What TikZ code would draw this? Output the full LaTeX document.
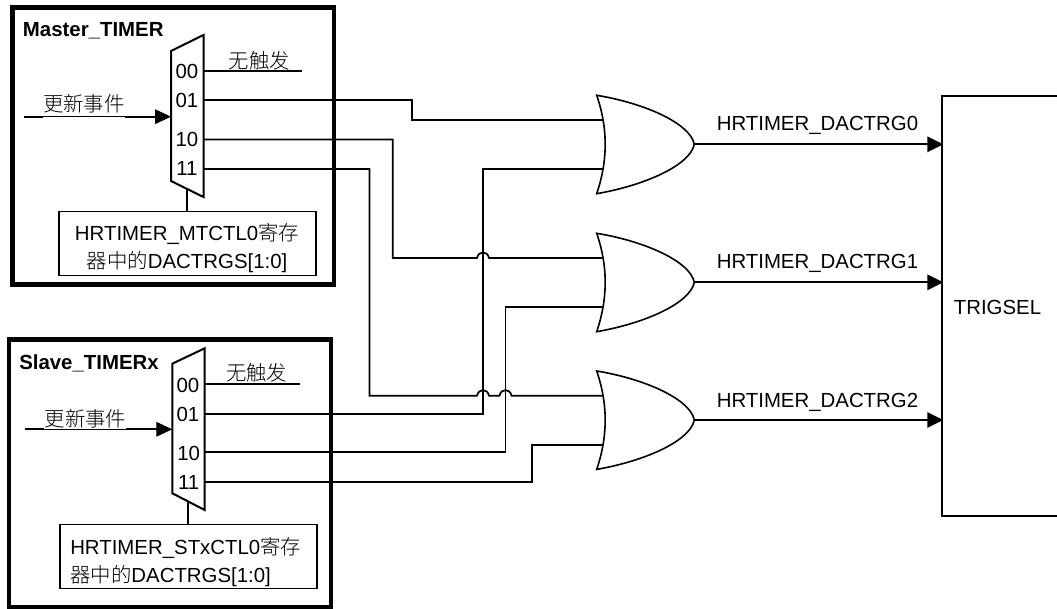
\documentclass[tikz,border=0pt]{standalone}
\usepackage{fontspec}
\setmainfont{Liberation Sans}
\newfontfamily\cjk{Noto Sans CJK SC Light}
\usetikzlibrary{arrows.meta}
\tikzset{
  x=0.75pt,y=-0.75pt,
  txt/.style={inner sep=0pt,font=\fontsize{15.3}{21}\selectfont},
  title/.style={txt,anchor=west,font=\fontsize{15.3}{21}\selectfont\bfseries},
  signal/.style={txt,anchor=west},
  pinlabel/.style={txt},
  frame/.style={draw=black,line width=3.6pt},
  regbox/.style={draw=black,line width=1pt,inner sep=0pt,minimum width=257*0.75pt,minimum height=63.6*0.75pt},
  muxshape/.style={draw=black,line width=1.5pt,line join=miter},
  wire/.style={draw=black,line width=1.3pt},
  stub/.style={draw=black,line width=1.7pt},
  gateline/.style={draw=black,line width=1.2pt,line join=miter},
  inarrow/.style={draw=black,line width=0.8pt,-{Triangle[length=12pt,width=11pt]}},
  outarrow/.style={draw=black,line width=1.6pt,-{Triangle[length=12pt,width=11.5pt]}},
}
\newcommand{\orgate}[2]{%
  \begin{scope}[shift={(0,#2)}]
    \coordinate (#1a) at (602.7,24.7);
    \coordinate (#1b) at (602.7,73.7);
    \coordinate (#1o) at (694.3,49);
    \draw[gateline] (596.7,0) .. controls (645,8) and (690,28) .. (694.3,49)
      .. controls (690,70) and (645,90) .. (596.7,98.4)
      .. controls (608,65) and (608,33) .. (596.7,0) -- cycle;
  \end{scope}}
\begin{document}
\begin{tikzpicture}
\useasboundingbox (0,0) rectangle (1057,609);
\begin{scope}
\clip (0,0) rectangle (1057,609);
% outer frames
\node[frame,inner sep=0pt,minimum width=321.5*0.75pt,minimum height=276.5*0.75pt] (master) at (173.25,146) {};
\node[frame,inner sep=0pt,minimum width=322*0.75pt,minimum height=268*0.75pt] (slave) at (170,473.5) {};
\end{scope}
\node[title] (mtitle) at (22.7,31) {Master\_TIMER};
\node[title] (stitle) at (19,363.7) {Slave\_TIMERx};
% multiplexers
\draw[muxshape] (171,51) coordinate (ma) -- (203.5,35) -- (203.5,197) -- (171,181) -- cycle;
\draw[muxshape] (172.3,363.7) coordinate (sa) -- (204.7,348.3) -- (204.7,510) -- (172.3,493.3) -- cycle;
\node[pinlabel] (ml0) at (187,71.5) {00};
\node[pinlabel] (ml1) at (187,100) {01};
\node[pinlabel] (ml2) at (187,139) {10};
\node[pinlabel] (ml3) at (187,168) {11};
\node[pinlabel] (sl0) at (188,385.7) {00};
\node[pinlabel] (sl1) at (188,414) {01};
\node[pinlabel] (sl2) at (188.7,453) {10};
\node[pinlabel] (sl3) at (188.7,482.3) {11};
% mux pins
\coordinate (m0) at (203.5,71);
\coordinate (m1) at (203.5,100);
\coordinate (m2) at (203.5,139.5);
\coordinate (m3) at (203.5,169);
\coordinate (s0) at (204.7,384);
\coordinate (s1) at (204.7,413.7);
\coordinate (s2) at (204.7,452.3);
\coordinate (s3) at (204.7,481.7);
\coordinate (me) at (302,71);
\coordinate (se) at (299.7,384);
\coordinate (mi) at (24,116.7);
\coordinate (si) at (25,429.3);
\coordinate (mt) at (171,116.7);
\coordinate (st) at (172.3,429.3);
\coordinate (mia) at (43,116.7);
\coordinate (mib) at (125,116.7);
\coordinate (mic) at (160,116.7);
\coordinate (sia) at (44,429.3);
\coordinate (sib) at (126,429.3);
\coordinate (sic) at (161,429.3);
% register boxes
\node[regbox] (mreg) at (187.5,243.5) {};
\node[regbox] (sreg) at (188.65,556.5) {};
\node[txt,align=center] (mregt) at (187,248) {HRTIMER\_MTCTL0{\cjk 寄存}\\{\cjk 器中的}DACTRGS[1:0]};
\node[txt,align=left,anchor=west] (sregt) at (70,562) {HRTIMER\_STxCTL0{\cjk 寄存}\\{\cjk 器中的}DACTRGS[1:0]};
\draw[wire,line width=1.4pt] (187,189) -- (mreg.north -| 187,189);
\draw[wire,line width=1.4pt] (188.3,501.6) -- (sreg.north -| 188.3,501.6);
% inputs
\draw[inarrow] (mi) -- (mt);
\draw[inarrow] (si) -- (st);
\draw[stub] (mi) -- (mia) (mib) -- (mic);
\draw[stub] (si) -- (sia) (sib) -- (sic);
\node[txt] (mup) at (84,104) {\cjk 更新事件};
\node[txt] (sup) at (85.5,418.3) {\cjk 更新事件};
\draw[wire] (m0) -- (me);
\draw[wire] (s0) -- (se);
\node[txt] (mno) at (259.3,61) {\cjk 无触发};
\node[txt] (sno) at (256.7,372.7) {\cjk 无触发};
% or gates
\orgate{ga}{95.3}
\orgate{gb}{233.3}
\orgate{gc}{371}
% wires
\draw[wire] (m1) -- (411.7,100) |- (gaa);
\draw[wire] (m2) -- (392.7,139.5) -- (392.7,258)
  -- (477,258) .. controls (478.5,250.5) and (487.5,250.5) .. (489,258) -- (gba);
\draw[wire] (m3) -- (369.5,169) -- (369.5,395.7)
  -- (477,395.7) .. controls (478.5,388.2) and (487.5,388.2) .. (489,395.7)
  -- (499.5,395.7) .. controls (501,388.2) and (510,388.2) .. (511.5,395.7) -- (gca);
\draw[wire] (s1) -- (483,413.7) |- (gab);
\draw[wire] (s2) -- (505.5,452.3) |- (gbb);
\draw[wire] (s3) -- (532,481.7) |- (gcb);
% target block
\coordinate (ttr) at (1057,96);
\coordinate (tbr) at (1057,516);
\draw[wire] (ttr) -- (942.3,96) -- (942.3,516) -- (tbr);
\node[txt] (trig) at (997.5,307.3) {TRIGSEL};
% outputs
\coordinate (ta) at (943.3,144.3);
\coordinate (tb) at (943.3,282.3);
\coordinate (tc) at (943.3,420);
\draw[outarrow] (gao) -- (ta);
\draw[outarrow] (gbo) -- (tb);
\draw[outarrow] (gco) -- (tc);
\node[signal] (la) at (716.5,125.3) {HRTIMER\_DACTRG0};
\node[signal] (lb) at (716.5,263.7) {HRTIMER\_DACTRG1};
\node[signal] (lc) at (716.5,402) {HRTIMER\_DACTRG2};
\end{tikzpicture}
\end{document}
